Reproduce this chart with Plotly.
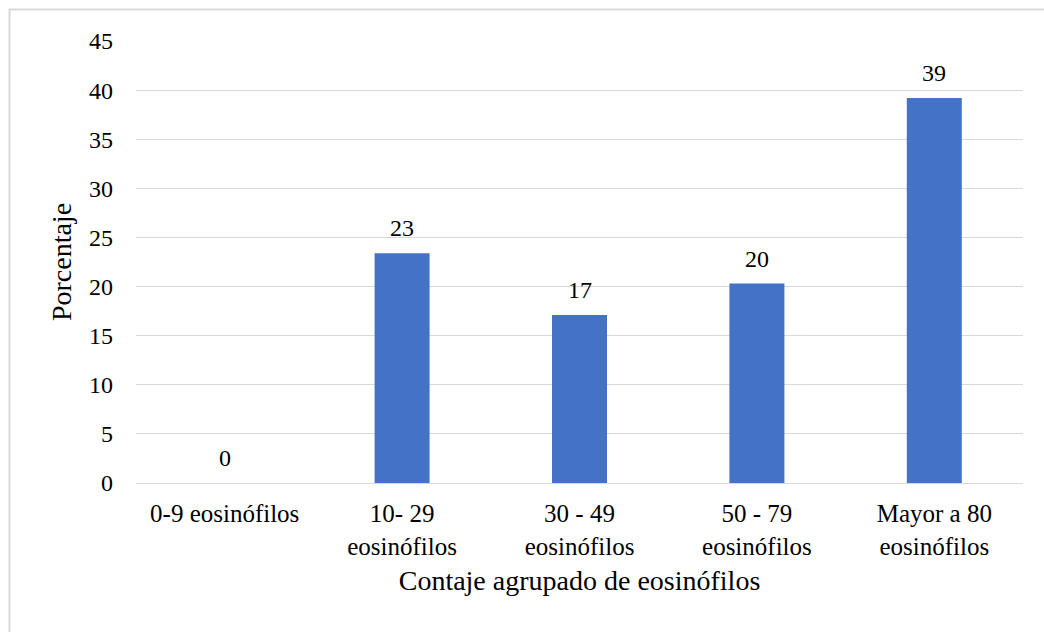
import plotly.graph_objects as go

categories = ["0-9 eosinófilos", "10- 29<br>eosinófilos", "30 - 49<br>eosinófilos",
              "50 - 79<br>eosinófilos", "Mayor a 80<br>eosinófilos"]
values = [0, 23.4, 17.1, 20.3, 39.2]
y_ticks = [0, 5, 10, 15, 20, 25, 30, 35, 40, 45]

FONT = "Times New Roman, Liberation Serif, serif"

fig = go.Figure(go.Bar(
    x=categories, y=values,
    marker=dict(color="#4472C4", line=dict(width=0)),
    cliponaxis=False,
))

for c, v in zip(categories, values):
    fig.add_annotation(x=c, y=v, text=f"{v:.0f}", showarrow=False,
                       yanchor="bottom", yshift=10,
                       font=dict(family=FONT, size=24, color="#000000"))

fig.update_layout(
    template="none",
    width=1044, height=632,
    margin=dict(l=136, r=21, t=41, b=149),
    paper_bgcolor="white", plot_bgcolor="white",
    bargap=0.69,
    showlegend=False,
    font=dict(family=FONT, color="#000000"),
    xaxis=dict(
        title=dict(text="Contaje agrupado de eosinófilos",
                   font=dict(family=FONT, size=28, color="#000000"), standoff=11),
        tickfont=dict(family=FONT, size=25, color="#000000", weight="normal"),
        showgrid=False, showline=True, linecolor="#d9d9d9", linewidth=1,
        ticks="", tickangle=0, ticklabelstandoff=8, automargin=False,
    ),
    yaxis=dict(
        title=dict(text="Porcentaje", font=dict(family=FONT, size=28, color="#000000"), standoff=9),
        range=[0, 45], tickvals=y_ticks, ticktext=[str(v) for v in y_ticks],
        tickfont=dict(family=FONT, size=24, color="#000000", weight="normal"),
        showgrid=True, gridcolor="#d9d9d9", gridwidth=1,
        zeroline=False, showline=False, ticks="",
        ticklabelstandoff=22, automargin=False,
    ),
    shapes=[dict(type="rect", xref="paper", yref="paper",
                 x0=-0.1426, x1=1.2, y0=-0.6, y1=1.0713,
                 line=dict(color="#d9d9d9", width=2), fillcolor="rgba(0,0,0,0)",
                 layer="below")],
)

fig.write_html("out.html")
